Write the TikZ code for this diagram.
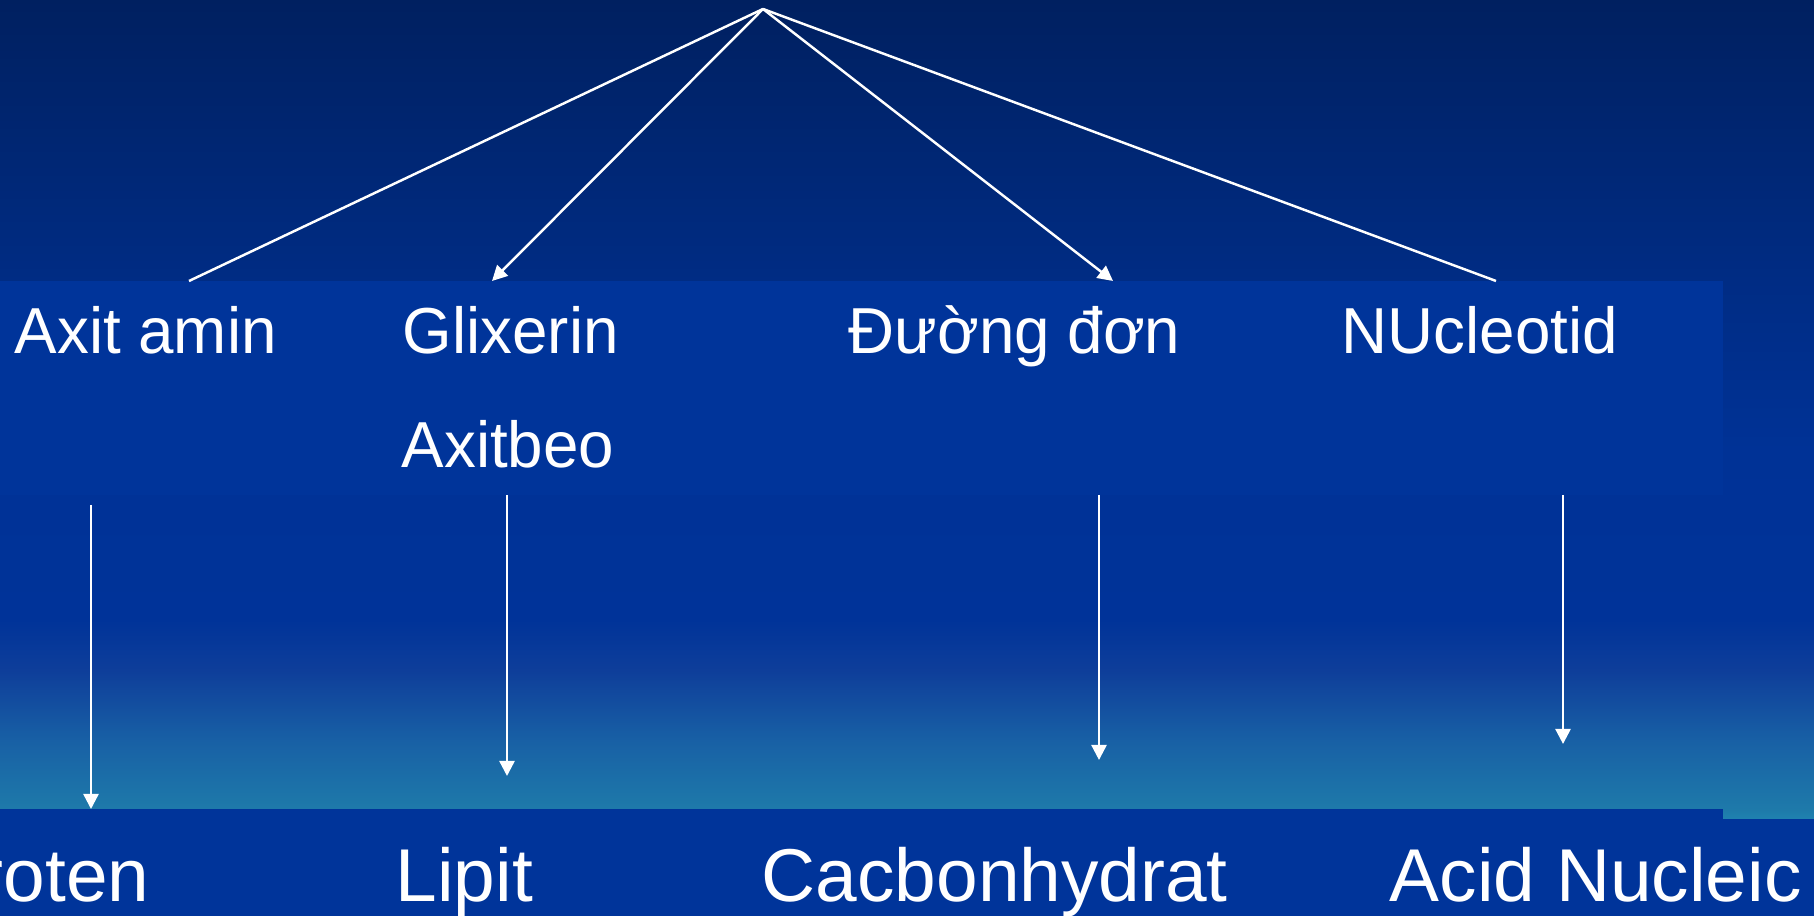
\documentclass[tikz,border=0pt]{standalone}
\usepackage{fontspec}
\setmainfont{Liberation Sans}
\usetikzlibrary{arrows.meta, positioning}
\definecolor{bgtop}{RGB}{0,32,96}
\definecolor{bgupper}{RGB}{0,44,132}
\definecolor{bgmid}{RGB}{0,50,150}
\definecolor{bgmidlow}{RGB}{0,51,153}
\definecolor{bgsoft}{RGB}{14,62,154}
\definecolor{bglight}{RGB}{24,96,165}
\definecolor{bgcyan}{RGB}{30,122,170}
\definecolor{bgteal}{RGB}{31,130,176}
\definecolor{panelblue}{RGB}{0,52,154}
\pgfdeclareverticalshading{slidebg}{100bp}{color(0bp)=(bgteal); color(30.3bp)=(bgteal); color(30.8bp)=(bgcyan); color(34.6bp)=(bglight); color(38.4bp)=(bgsoft); color(41.2bp)=(bgmidlow); color(50.4bp)=(bgmid); color(59.7bp)=(bgupper); color(75bp)=(bgtop); color(100bp)=(bgtop)}

\begin{document}
\begin{tikzpicture}[
    link/.style={white, line width=0.7pt},
    tip/.style={-{Triangle[length=4.3pt, width=4.3pt]}},
    word/.style={white, inner sep=0pt, anchor=base west, xscale=0.98, font=\fontsize{18.5}{22}\selectfont},
    bigword/.style={white, inner sep=0pt, anchor=base west, font=\fontsize{21.3}{25}\selectfont}]
    \clip (0,0) rectangle (18.14,9.16);
    % Slide background
    \fill[shading=slidebg] (0,0) rectangle (18.14,9.16);

    % Bands behind the two rows
    \fill[panelblue] (0,4.21) rectangle (17.23,6.35);
    \fill[panelblue] (0,0) rectangle (17.23,1.07);
    \fill[panelblue] (17.23,0) rectangle (18.14,0.97);

    % Branching from the top
    \coordinate (apex) at (7.63,9.07);
    \coordinate (amin-in) at (1.89,6.35);
    \coordinate (glix-in) at (4.92,6.35);
    \coordinate (duong-in) at (11.13,6.35);
    \coordinate (nucl-in) at (14.96,6.35);
    \draw[link] (apex) -- (amin-in);
    \draw[link, tip] (apex) -- (glix-in);
    \draw[link, tip] (apex) -- (duong-in);
    \draw[link] (apex) -- (nucl-in);

    % Monomers
    \node[word] (amin) at (0.14,5.62) {Axit amin};
    \node[word] (glix) at (4.02,5.62) {Glixerin};
    \node[word] (beo) at (4.01,4.48) {Axitbeo};
    \node[word] (duong) at (8.48,5.62) {Đường đơn};
    \node[word] (nucl) at (13.41,5.62) {NUcleotid};

    % Polymers
    \node[bigword, anchor=base east] (proten) at (1.50,0.14) {Proten};
    \node[bigword] (lipit) at (3.95,0.14) {Lipit};
    \node[bigword] (cacbon) at (7.61,0.14) {Cacbonhydrat};
    \node[bigword] (acid) at (13.89,0.14) {Acid Nucleic};

    % Monomer to polymer
    \coordinate (amin-out) at (0.91,4.11);
    \coordinate (proten-in) at (0.91,1.07);
    \coordinate (beo-out) at (5.07,4.21);
    \coordinate (lipit-in) at (5.07,1.40);
    \coordinate (duong-out) at (10.99,4.21);
    \coordinate (cacbon-in) at (10.99,1.56);
    \coordinate (nucl-out) at (15.63,4.21);
    \coordinate (acid-in) at (15.63,1.72);
    \draw[link, tip] (amin-out) -- (proten-in);
    \draw[link, tip] (beo-out) -- (lipit-in);
    \draw[link, tip] (duong-out) -- (cacbon-in);
    \draw[link, tip] (nucl-out) -- (acid-in);
\end{tikzpicture}
\end{document}
